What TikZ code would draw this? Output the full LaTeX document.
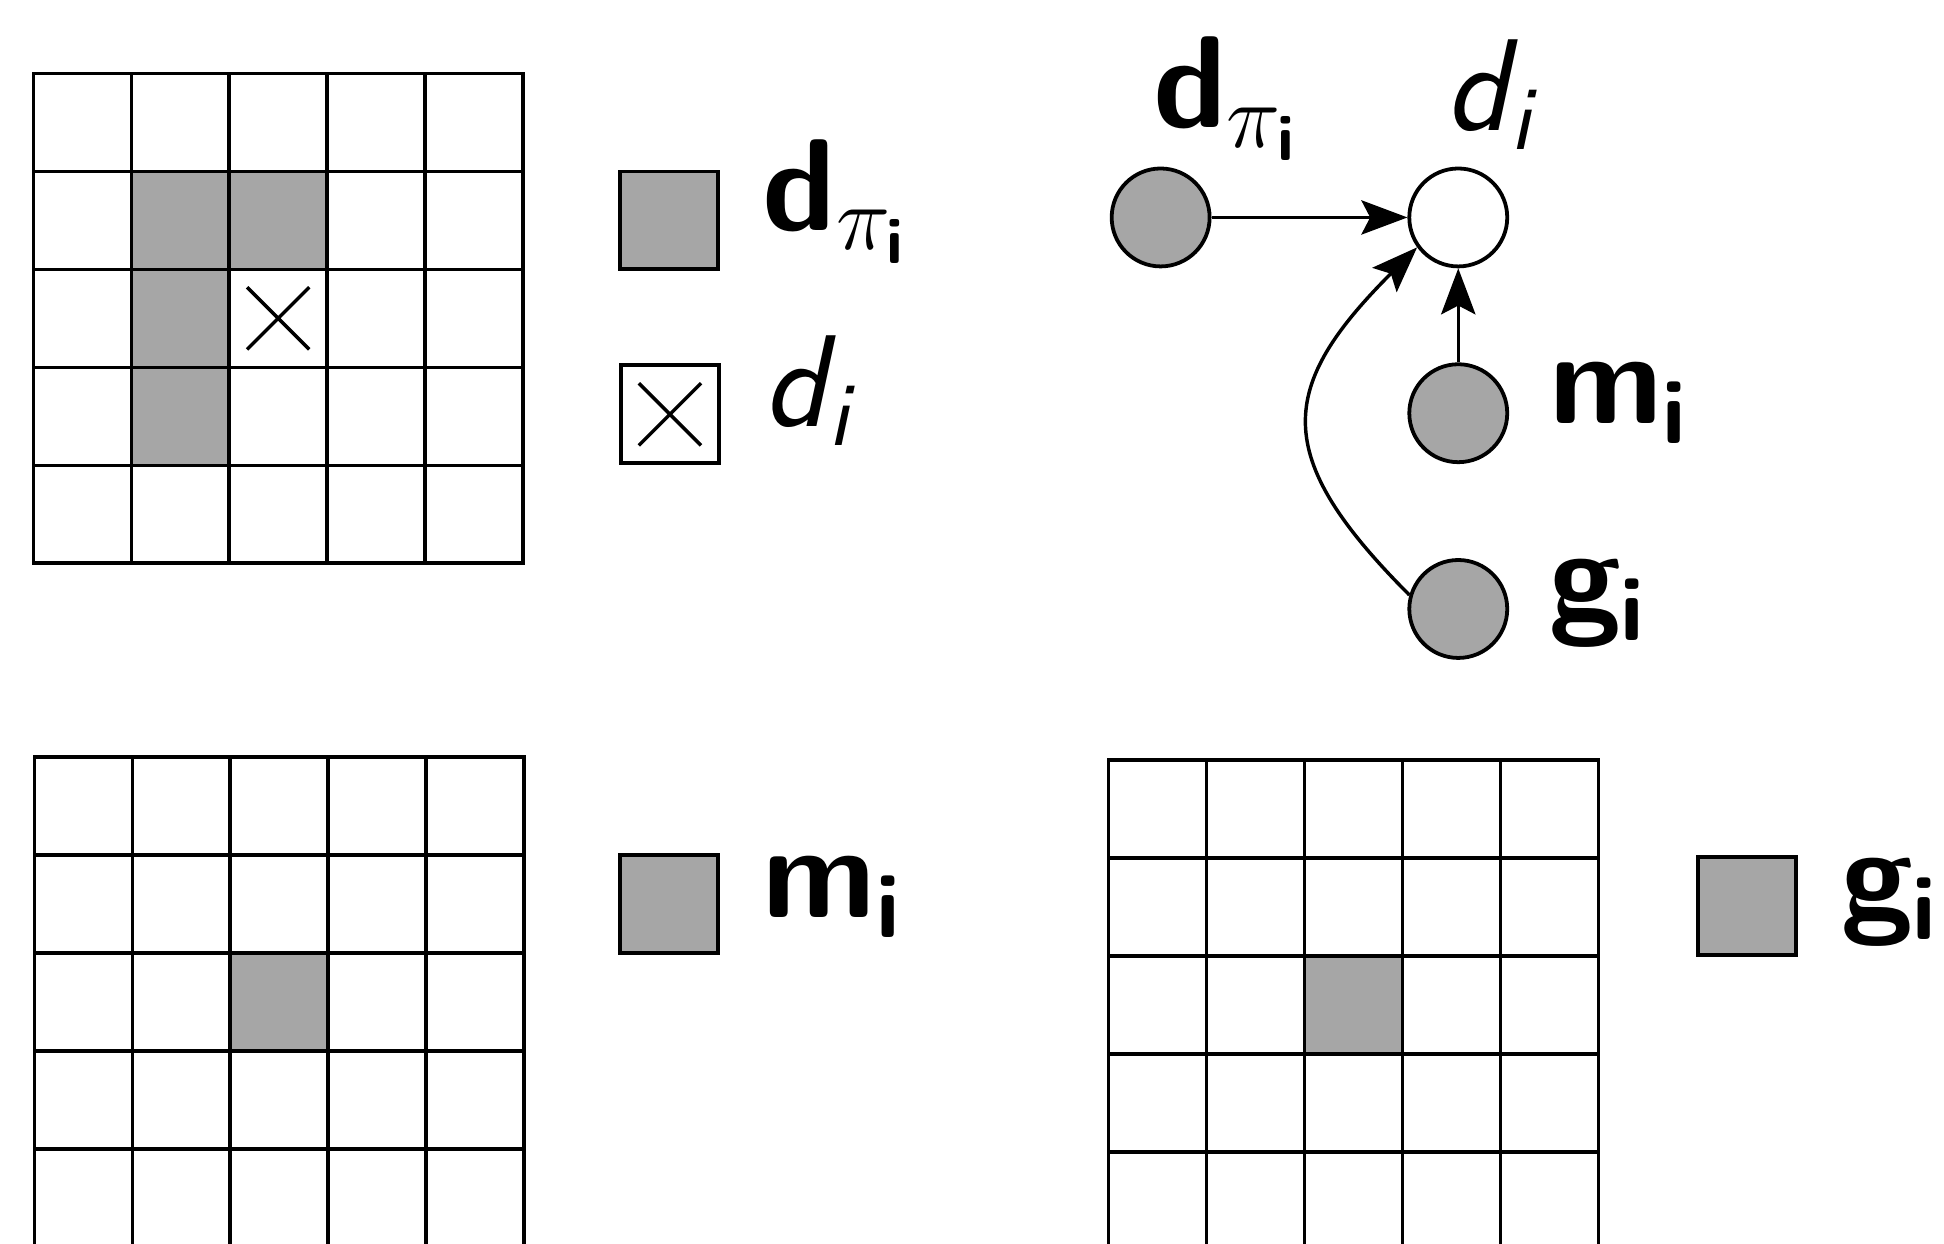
\documentclass[tikz,border=0pt]{standalone}
\usepackage{fix-cm}
\usepackage{amsmath}
\usetikzlibrary{positioning, arrows.meta, shapes.misc}

\definecolor{cellgray}{gray}{0.65}

\tikzset{
  gridline/.style={line width=1pt, line cap=rect},
  cellfill/.style={fill=cellgray},
  legsq/.style={draw, line width=1.1pt, fill=cellgray, minimum size=1cm, inner sep=0pt},
  xbox/.style={draw, line width=1.1pt, fill=white, minimum size=1cm, inner sep=0pt},
  xmark/.style={draw, cross out, line width=1pt, minimum size=0.6cm, inner sep=0pt},
  var/.style={circle, draw, line width=1.1pt, minimum size=1cm, inner sep=0pt},
  lbl/.style={font=\sffamily\fontsize{38}{44}\selectfont, inner sep=0pt},
  arr/.style={-{Stealth[length=4.7mm, width=3.5mm, inset=0.9mm]}, line width=1pt}
}

\begin{document}
\begin{tikzpicture}
\path[use as bounding box, fill=white] (0,0) rectangle (19.848,-12.696);
\clip (0,0) rectangle (19.848,-12.696);

% neighbourhood of d_i
\begin{scope}[shift={(0.34,-0.75)}]
  \fill[cellfill] (1,-1) rectangle (3,-2) (1,-2) rectangle (2,-4);
  \foreach \k in {0,...,5}
    \draw[gridline] (\k,0) -- (\k,-5) (0,-\k) -- (5,-\k);
  \node[xmark] (cell) at (2.5,-2.5) {};
\end{scope}

\node[legsq] (sqd) at (6.83,-2.25) {};
\node[xbox] (sqx) at (6.84,-4.23) {};
\node[xmark] (sqxm) at (sqx.center) {};
\node[lbl, right=0.43cm of sqd.east, anchor=base west, yshift=-0.1cm] (ldpi) {\textbf{d}$_{\pi_{\textsf{\bfseries i}}}$};
\node[lbl, right=0.43cm of sqx.east, anchor=base west, yshift=-0.12cm] (ldi) {\textsl{d}\kern-0.06em$_{\textsl{i}}$};

% mask m_i
\begin{scope}[shift={(0.35,-7.73)}]
  \fill[cellfill] (2,-2) rectangle (3,-3);
  \foreach \k in {0,...,5}
    \draw[gridline] (\k,0) -- (\k,-5) (0,-\k) -- (5,-\k);
\end{scope}
\node[legsq] (sqm) at (6.83,-9.23) {};
\node[lbl, right=0.43cm of sqm.east, anchor=base west, yshift=-0.14cm] (lm) {\textbf{m}$_{\textsf{\bfseries i}}$};

% g_i
\begin{scope}[shift={(11.32,-7.76)}]
  \fill[cellfill] (2,-2) rectangle (3,-3);
  \foreach \k in {0,...,5}
    \draw[gridline] (\k,0) -- (\k,-5) (0,-\k) -- (5,-\k);
\end{scope}
\node[legsq] (sqg) at (17.84,-9.25) {};
\node[lbl, right=0.43cm of sqg.east, anchor=base west, yshift=-0.14cm] (lg) {\textbf{g}$_{\textsf{\bfseries i}}$};

% graphical model
\node[var, fill=cellgray] (dpi) at (11.85,-2.22) {};
\node[var, fill=white, right=2.0cm of dpi] (di) {};
\node[var, fill=cellgray, below=0.96cm of di] (mi) {};
\node[var, fill=cellgray, below=0.96cm of mi] (gi) {};

\node[lbl, above=0.4cm of dpi.north, anchor=base west, xshift=-0.08cm] (tdpi) {\textbf{d}$_{\pi_{\textsf{\bfseries i}}}$};
\node[lbl, above=0.37cm of di.north, anchor=base west, xshift=-0.14cm] (tdi) {\textsl{d}\kern-0.06em$_{\textsl{i}}$};
\node[lbl, right=0.4cm of mi.east, anchor=base west, yshift=-0.11cm] (tmi) {\textbf{m}$_{\textsf{\bfseries i}}$};
\node[lbl, right=0.4cm of gi.east, anchor=base west, yshift=-0.12cm] (tgi) {\textbf{g}$_{\textsf{\bfseries i}}$};

\draw[arr] (dpi) -- (di);
\draw[arr] (mi) -- (di);
\draw[arr] (gi.164) to[out=135, in=225, looseness=1.45] (di.216);
\end{tikzpicture}
\end{document}
